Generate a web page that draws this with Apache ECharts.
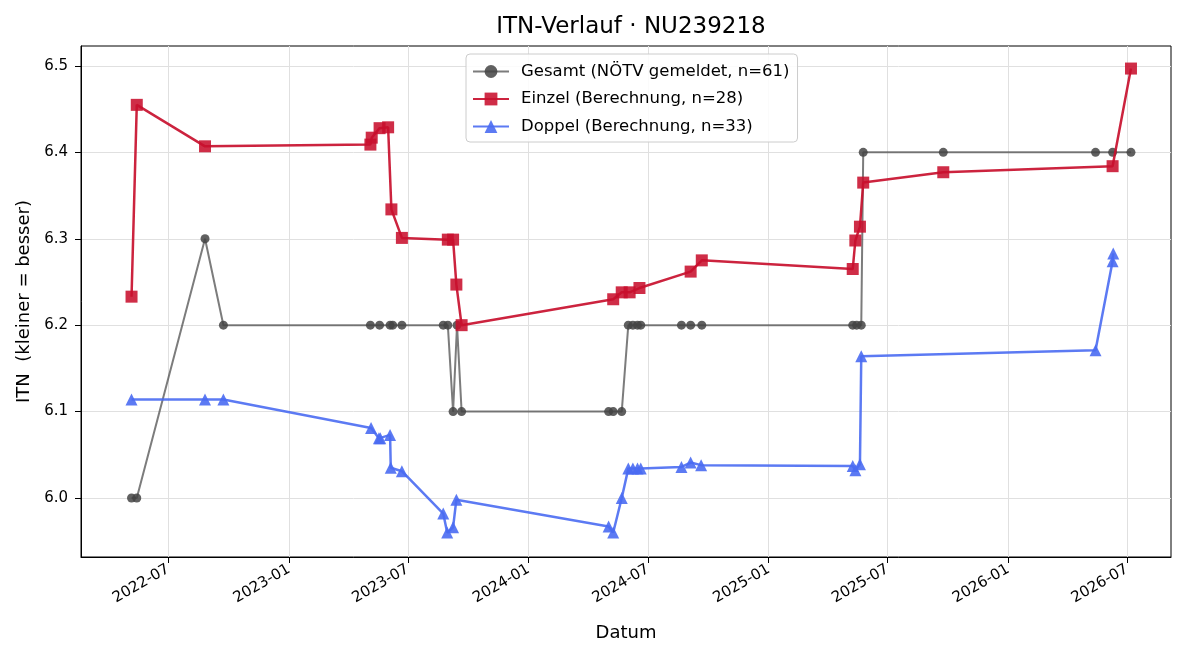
<!DOCTYPE html>
<html lang="de">
<head>
    <meta charset="UTF-8">
    <title>ITN-Verlauf</title>
    <style>
        html, body { margin: 0; padding: 0; background: #fff; }
        #chart { width: 1200px; height: 660px; }
    </style>
    <script src="https://cdn.jsdelivr.net/npm/echarts@6.0.0/dist/echarts.min.js"></script>
</head>
<body>
    <div id="chart"></div>

    <script type="text/javascript">
        // Gesamt (NÖTV gemeldet)
        var gesamtDates = ['2022-05-06', '2022-05-14', '2022-08-26', '2022-09-23', '2023-05-05', '2023-05-19',
            '2023-06-04', '2023-06-08', '2023-06-22', '2023-08-24', '2023-08-31', '2023-09-08', '2023-09-14',
            '2023-09-21', '2024-05-02', '2024-05-09', '2024-05-22', '2024-06-01', '2024-06-08', '2024-06-15',
            '2024-06-20', '2024-08-21', '2024-09-04', '2024-09-21', '2025-05-09', '2025-05-15', '2025-05-22',
            '2025-05-25', '2025-09-24', '2026-05-14', '2026-06-09', '2026-07-07'];
        var gesamtValues = [6.0, 6.0, 6.3, 6.2, 6.2, 6.2,
            6.2, 6.2, 6.2, 6.2, 6.2, 6.1, 6.2,
            6.1, 6.1, 6.1, 6.1, 6.2, 6.2, 6.2,
            6.2, 6.2, 6.2, 6.2, 6.2, 6.2, 6.2,
            6.4, 6.4, 6.4, 6.4, 6.4];

        // Einzel (Berechnung)
        var einzelDates = ['2022-05-06', '2022-05-14', '2022-08-26', '2023-05-05', '2023-05-07', '2023-05-19',
            '2023-06-01', '2023-06-06', '2023-06-22', '2023-08-31', '2023-09-08', '2023-09-13', '2023-09-21',
            '2024-05-09', '2024-05-22', '2024-06-03', '2024-06-18', '2024-09-04', '2024-09-21', '2025-05-09',
            '2025-05-13', '2025-05-20', '2025-05-25', '2025-09-24', '2026-06-09', '2026-07-07'];
        var einzelValues = [6.233, 6.455, 6.407, 6.409, 6.417, 6.428,
            6.429, 6.334, 6.301, 6.299, 6.299, 6.247, 6.200,
            6.230, 6.238, 6.238, 6.243, 6.262, 6.275, 6.265,
            6.298, 6.314, 6.365, 6.377, 6.384, 6.497];

        // Doppel (Berechnung)
        var doppelDates = ['2022-05-06', '2022-08-26', '2022-09-23', '2023-05-06', '2023-05-18', '2023-05-20',
            '2023-06-04', '2023-06-05', '2023-06-22', '2023-08-24', '2023-08-30', '2023-09-08', '2023-09-13',
            '2024-05-02', '2024-05-09', '2024-05-22', '2024-06-01', '2024-06-08', '2024-06-15', '2024-06-20',
            '2024-08-21', '2024-09-04', '2024-09-20', '2025-05-09', '2025-05-13', '2025-05-20', '2025-05-22',
            '2026-05-14', '2026-06-09', '2026-06-10'];
        var doppelValues = [6.114, 6.114, 6.114, 6.081, 6.069, 6.069,
            6.073, 6.035, 6.031, 5.982, 5.960, 5.966, 5.998,
            5.967, 5.960, 6.000, 6.034, 6.034, 6.034, 6.034,
            6.036, 6.041, 6.038, 6.037, 6.032, 6.039, 6.164,
            6.171, 6.274, 6.283];

        var xTicks = ['2022-07-01', '2023-01-01', '2023-07-01', '2024-01-01', '2024-07-01',
            '2025-01-01', '2025-07-01', '2026-01-01', '2026-07-01'];
        var yTicks = [6.0, 6.1, 6.2, 6.3, 6.4, 6.5];

        function ts(d) { return Date.parse(d + 'T00:00:00Z'); }

        function pairs(dates, values) {
            return dates.map(function (d, i) { return [ts(d), values[i]]; });
        }

        var font = 'DejaVu Sans';
        var xTickValues = xTicks.map(ts);

        var chart = echarts.init(document.getElementById('chart'));
        var option = {
            animation: false,
            textStyle: { fontFamily: font },
            title: {
                text: 'ITN-Verlauf · NU239218',
                left: 626,
                textAlign: 'center',
                top: 11,
                textStyle: { fontFamily: font, fontSize: 23, fontWeight: 'normal', color: '#000' }
            },
            legend: {
                orient: 'vertical',
                left: 466,
                top: 54,
                padding: [9, 8, 7, 6],
                itemGap: 10.5,
                itemWidth: 36,
                itemHeight: 16,
                backgroundColor: 'rgba(255,255,255,0.85)',
                borderColor: '#cccccc',
                borderWidth: 1,
                borderRadius: 4,
                textStyle: { fontFamily: font, fontSize: 16.5, color: '#000', padding: [0, 0, 0, 7] },
                data: ['Gesamt (NÖTV gemeldet, n=61)', 'Einzel (Berechnung, n=28)', 'Doppel (Berechnung, n=33)']
            },
            grid: {
                left: 81,
                right: 29,
                top: 46,
                bottom: 103,
                show: true,
                borderColor: '#000',
                borderWidth: 1
            },
            xAxis: {
                type: 'value',
                min: ts('2022-02-18'),
                max: ts('2026-09-06'),
                name: 'Datum',
                nameLocation: 'middle',
                nameGap: 67,
                nameTextStyle: { fontFamily: font, fontSize: 18, color: '#000' },
                axisLine: { onZero: false, lineStyle: { color: '#000' } },
                axisTick: { customValues: xTickValues, length: 6, lineStyle: { color: '#000' } },
                axisLabel: {
                    customValues: xTickValues,
                    rotate: 30,
                    margin: 11,
                    fontSize: 15,
                    color: '#000',
                    formatter: function (v) {
                        var d = new Date(v);
                        var m = d.getUTCMonth() + 1;
                        return d.getUTCFullYear() + '-' + (m < 10 ? '0' + m : m);
                    }
                },
                splitLine: { show: true, lineStyle: { color: '#e0e0e0' } }
            },
            yAxis: {
                type: 'value',
                min: 5.9317,
                max: 6.5231,
                name: 'ITN  (kleiner = besser)',
                nameLocation: 'middle',
                nameGap: 44,
                nameTextStyle: { fontFamily: font, fontSize: 18, color: '#000' },
                axisLine: { show: true, onZero: false, lineStyle: { color: '#000' } },
                axisTick: { show: true, customValues: yTicks, length: 6, lineStyle: { color: '#000' } },
                axisLabel: {
                    customValues: yTicks,
                    margin: 13,
                    fontSize: 15,
                    color: '#000',
                    formatter: function (v) { return v.toFixed(1); }
                },
                splitLine: { show: true, lineStyle: { color: '#e0e0e0' } }
            },
            series: [
                {
                    name: 'Gesamt (NÖTV gemeldet, n=61)',
                    type: 'line',
                    data: pairs(gesamtDates, gesamtValues),
                    symbol: 'circle',
                    symbolSize: 9,
                    color: '#444444',
                    lineStyle: { color: '#444444', width: 2, opacity: 0.7 },
                    itemStyle: { color: '#444444', opacity: 0.85 },
                    z: 2
                },
                {
                    name: 'Einzel (Berechnung, n=28)',
                    type: 'line',
                    data: pairs(einzelDates, einzelValues),
                    symbol: 'rect',
                    symbolSize: 12,
                    color: '#c8102e',
                    lineStyle: { color: '#c8102e', width: 2.5, opacity: 0.92 },
                    itemStyle: { color: '#c8102e', opacity: 0.88 },
                    z: 3
                },
                {
                    name: 'Doppel (Berechnung, n=33)',
                    type: 'line',
                    data: pairs(doppelDates, doppelValues),
                    symbol: 'triangle',
                    symbolSize: 12,
                    color: '#4a6cf2',
                    lineStyle: { color: '#4a6cf2', width: 2.5, opacity: 0.9 },
                    itemStyle: { color: '#4a6cf2', opacity: 0.9 },
                    z: 3
                }
            ]
        };
        chart.setOption(option);
    </script>
</body>
</html>
